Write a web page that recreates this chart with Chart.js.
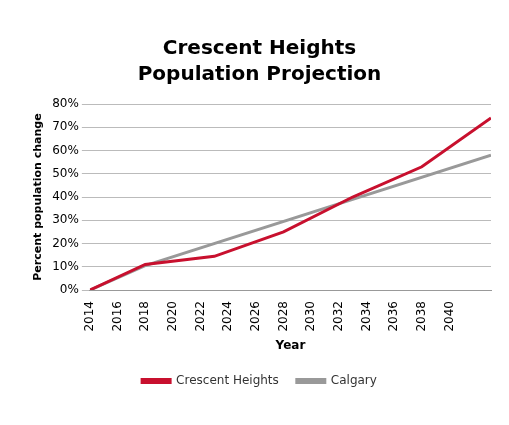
<!DOCTYPE html>
<html><head><script src="https://cdn.jsdelivr.net/npm/chart.js@4"></script>
<style>body{margin:0;background:#fff}#w{width:509px;height:425px}</style></head>
<body><div id="w"><canvas id="c"></canvas></div>
<script>
const crescentYears=[2014,2018,2023,2028,2033,2038,2043];
const crescentValues=[0,11,14.5,25,40,53,74];
const calgaryYears=[2014,2018,2043];
const calgaryValues=[0,10.5,58];
const toPts=(xs,ys)=>xs.map((x,i)=>({x:x,y:ys[i]}));
const F='"DejaVu Sans", sans-serif';
new Chart(document.getElementById('c'),{type:'line',
data:{datasets:[
{label:'Crescent Heights',data:toPts(crescentYears,crescentValues),borderColor:'#c8102e',backgroundColor:'#c8102e',borderWidth:3,pointRadius:0,tension:0},
{label:'Calgary',data:toPts(calgaryYears,calgaryValues),borderColor:'#999999',backgroundColor:'#999999',borderWidth:3,pointRadius:0,tension:0}]},
options:{responsive:true,maintainAspectRatio:false,animation:false,
layout:{padding:{left:28,right:18,top:36,bottom:28}},
plugins:{title:{display:true,text:['Crescent Heights','Population Projection'],color:'#000',font:{family:F,size:20,weight:'bold',lineHeight:1.3},padding:{bottom:16}},
legend:{position:'bottom',labels:{boxWidth:28,boxHeight:3,color:'#333',font:{family:F,size:12},padding:18}},tooltip:{enabled:false}},
scales:{x:{type:'linear',min:2014,max:2043,grid:{display:false},border:{color:'#999'},
ticks:{stepSize:2,maxRotation:90,minRotation:90,color:'#000',font:{family:F,size:12},callback:v=>v%2===0&&v<2043?String(v):''},
title:{display:true,text:'Year',color:'#000',font:{family:F,size:12,weight:'bold'}}},
y:{min:0,max:80,ticks:{stepSize:10,color:'#000',font:{family:F,size:12},callback:v=>v+'%'},grid:{color:'#bbb'},border:{display:false},
title:{display:true,text:'Percent population change',color:'#000',font:{family:F,size:11,weight:'bold'}}}}}});
</script></body></html>
